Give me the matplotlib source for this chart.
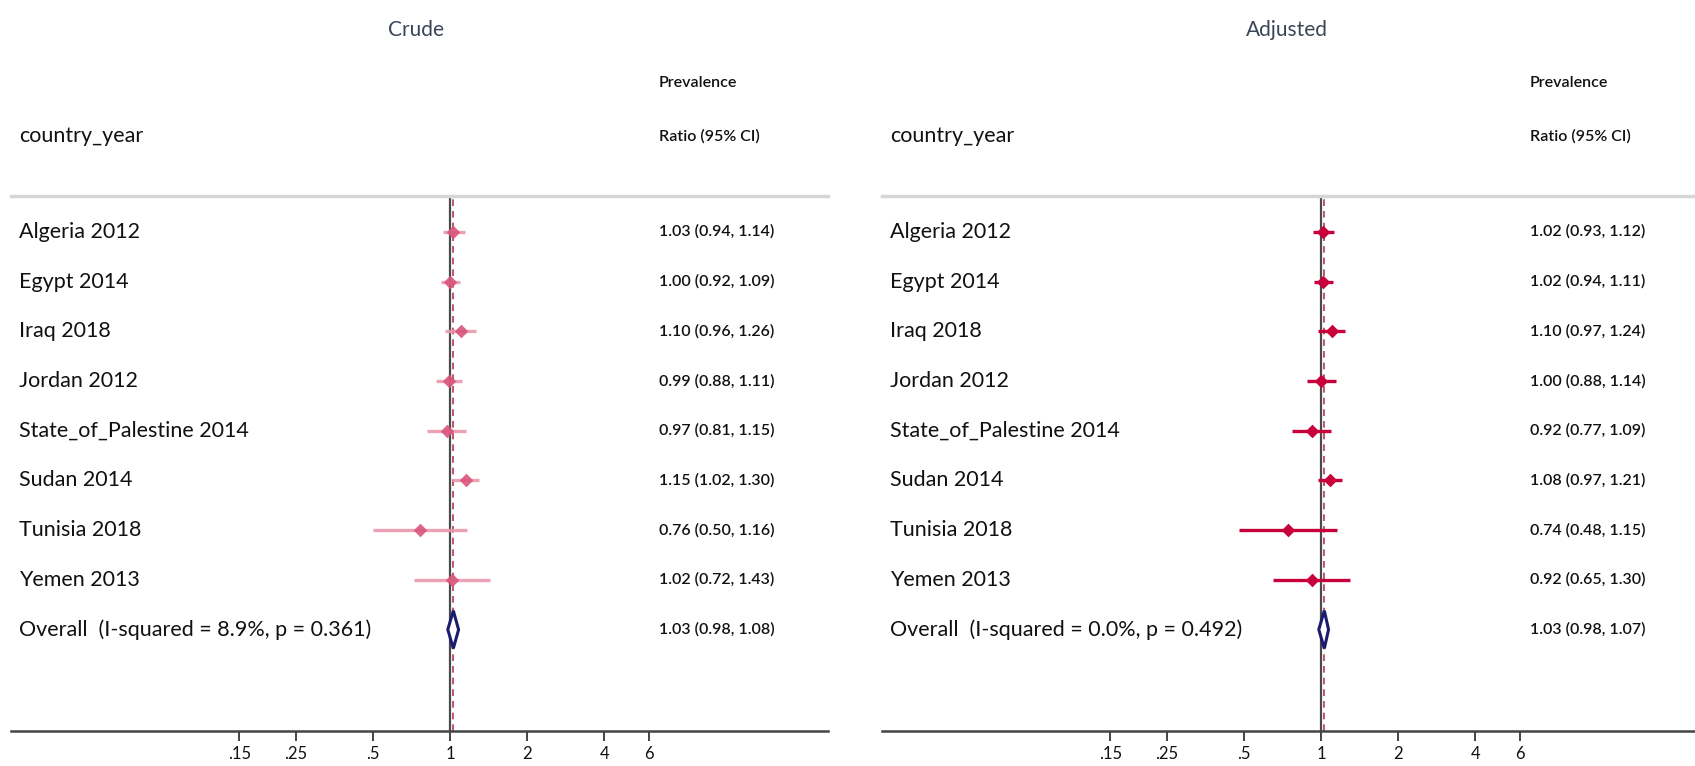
import numpy as np
import matplotlib.pyplot as plt

W, H = 1695, 766

countries = ["Algeria 2012", "Egypt 2014", "Iraq 2018", "Jordan 2012",
             "State_of_Palestine 2014", "Sudan 2014", "Tunisia 2018", "Yemen 2013"]

crude_est = [1.03, 1.00, 1.10, 0.99, 0.97, 1.15, 0.76, 1.02]
crude_lo = [0.94, 0.92, 0.96, 0.88, 0.81, 1.02, 0.50, 0.72]
crude_hi = [1.14, 1.09, 1.26, 1.11, 1.15, 1.30, 1.16, 1.43]
crude_overall = (1.03, 0.98, 1.08)
crude_het = "Overall  (I-squared = 8.9%, p = 0.361)"

adj_est = [1.02, 1.02, 1.10, 1.00, 0.92, 1.08, 0.74, 0.92]
adj_lo = [0.93, 0.94, 0.97, 0.88, 0.77, 0.97, 0.48, 0.65]
adj_hi = [1.12, 1.11, 1.24, 1.14, 1.09, 1.21, 1.15, 1.30]
adj_overall = (1.03, 0.98, 1.07)
adj_het = "Overall  (I-squared = 0.0%, p = 0.492)"

ticks = [0.15, 0.25, 0.5, 1, 2, 4, 6]
tick_labels = [".15", ".25", ".5", "1", "2", "4", "6"]

FONT = "Lato"
plt.rcParams['font.family'] = [FONT, 'DejaVu Sans']

TXT_X = 0.793  # column of estimates, axes fraction


def fx(px):
    return px / W


def fy(py):
    return 1 - py / H


def draw_panel(fig, left_px, title, est, lo, hi, overall, het, mcol, lcol, alpha):
    panel_w = 817
    ax = fig.add_axes([fx(left_px), fy(731), panel_w / W, (731 - 196) / H])
    ax.set_xscale('log')
    ax.set_xlim(0.01924, 30.0)
    n = len(est)
    ax.set_ylim(10.04, -0.72)

    y = np.arange(n)
    for yi, e, l, h in zip(y, est, lo, hi):
        ax.plot([l, h], [yi, yi], color=lcol, lw=2.4, alpha=alpha, solid_capstyle='butt', zorder=3)
    ax.scatter(est, y, marker='D', s=48, color=mcol, alpha=alpha, zorder=4, linewidths=0)

    oe, ol, oh = overall
    yo = n
    ax.fill([ol, oe, oh, oe, ol], [yo, yo - 0.38, yo, yo + 0.38, yo], facecolor='white',
            edgecolor='#1c1c6e', lw=2.2, zorder=5)

    ax.axvline(1, color='#4a4a4a', lw=1.6, zorder=2)
    ax.axvline(oe, color='#b23a55', lw=1.2, ls=(0, (4, 3)), zorder=2.5)

    labels = countries + [het]
    texts = ["%.2f (%.2f, %.2f)" % t for t in zip(est, lo, hi)] + ["%.2f (%.2f, %.2f)" % overall]
    for yi, lab, t in zip(range(n + 1), labels, texts):
        ax.text(0.01, yi, lab, transform=ax.get_yaxis_transform(), fontsize=15.5,
                va='center', ha='left', color='#111111')
        ax.text(TXT_X, yi, t, transform=ax.get_yaxis_transform(), fontsize=11.5,
                fontweight='semibold', va='center', ha='left', color='#111111')

    for s in ['left', 'right']:
        ax.spines[s].set_visible(False)
    ax.spines['top'].set_color('#d6d6d6')
    ax.spines['top'].set_linewidth(2.5)
    ax.spines['bottom'].set_color('#444444')
    ax.spines['bottom'].set_linewidth(1.8)
    ax.set_yticks([])
    ax.set_xticks(ticks)
    ax.set_xticklabels(tick_labels)
    ax.minorticks_off()
    ax.tick_params(axis='x', length=7, width=1.4, color='#444444', labelsize=12,
                   pad=4, labelcolor='#111111')

    fig.text(fx(left_px + 0.496 * panel_w), fy(30), title, fontsize=15, ha='center',
             va='center', color='#3a4658')
    fig.text(fx(left_px + TXT_X * panel_w), fy(83), "Prevalence", fontsize=11.5,
             fontweight='semibold', ha='left', va='center', color='#111111')
    fig.text(fx(left_px + TXT_X * panel_w), fy(136), "Ratio (95% CI)", fontsize=11.5,
             fontweight='semibold', ha='left', va='center', color='#111111')
    fig.text(fx(left_px + 0.01 * panel_w), fy(136), "country_year", fontsize=15.5,
             ha='left', va='center', color='#111111')
    return ax


fig = plt.figure(figsize=(W / 100, H / 100), dpi=100)
draw_panel(fig, 11, "Crude", crude_est, crude_lo, crude_hi, crude_overall, crude_het,
           '#d9557b', '#eb97ae', 0.9)
draw_panel(fig, 882, "Adjusted", adj_est, adj_lo, adj_hi, adj_overall, adj_het,
           '#c8003c', '#c8003c', 1.0)

fig.savefig("out.png", dpi=100, facecolor='white')
